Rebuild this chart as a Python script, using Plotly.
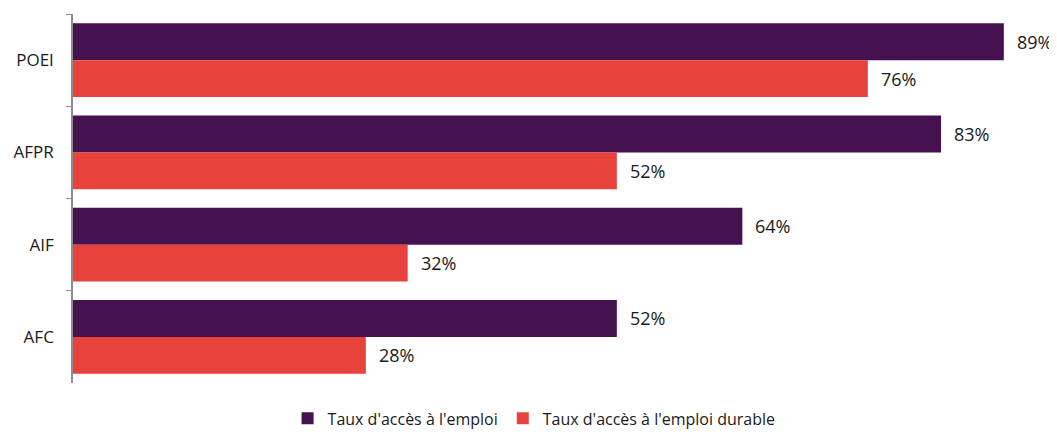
import plotly.graph_objects as go

categories = ["POEI", "AFPR", "AIF", "AFC"]
series_names = ["Taux d'accès à l'emploi", "Taux d'accès à l'emploi durable"]
emploi = [89, 83, 64, 52]
emploi_durable = [76, 52, 32, 28]
colors = ["#46114F", "#E8423D"]

FONT = "Open Sans"

fig = go.Figure()
for name, vals, col in zip(series_names, [emploi, emploi_durable], colors):
    fig.add_trace(go.Bar(
        y=categories, x=vals, name=name, orientation="h",
        marker=dict(color=col, line=dict(width=0)),
        hoverinfo="x+y",
    ))

# value labels as annotations offset from bar ends
ann = []
for i, vals in enumerate([emploi, emploi_durable]):
    for c, v in zip(categories, vals):
        ann.append(dict(
            x=v, y=c, xref="x", yref="y", text=f"{v}%", showarrow=False,
            xanchor="left", yanchor="middle", xshift=11,
            yshift=(18.5 if i == 0 else -18.5),
            font=dict(family=FONT, size=18, color="#1a1a1a"),
        ))

fig.update_layout(
    width=1049, height=427,
    margin=dict(l=65, r=3, t=6, b=52, autoexpand=False),
    barmode="group", bargap=0.2, bargroupgap=0,
    plot_bgcolor="white", paper_bgcolor="white",
    font=dict(family=FONT, size=16, color="#1a1a1a"),
    showlegend=True,
    legend=dict(orientation="h", x=0.47, xanchor="center", y=-0.05, yanchor="top",
                font=dict(family=FONT, size=16, color="#1a1a1a"),
                traceorder="normal", itemwidth=30),
    annotations=ann,
)
fig.update_xaxes(range=[0, 93.8], visible=False, showgrid=False, zeroline=False)
fig.update_yaxes(autorange="reversed", showline=True, linecolor="#8c8c8c", linewidth=1.5,
                 ticks="outside", tickson="boundaries", ticklen=5, tickcolor="#8c8c8c",
                 tickfont=dict(family=FONT, size=17, color="#1a1a1a"),
                 ticklabelstandoff=14, showgrid=False, zeroline=False, automargin=False)

fig.write_html("out.html")
